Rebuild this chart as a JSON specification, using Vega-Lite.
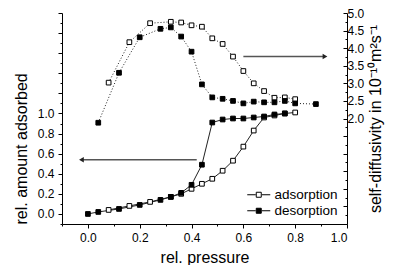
{
  "$schema": "https://vega.github.io/schema/vega-lite/v6.json",
  "width": 285,
  "height": 211,
  "autosize": {"type": "none"},
  "padding": {"left": 62, "top": 13, "right": 46, "bottom": 41},
  "config": {
    "view": {"stroke": null},
    "font": "Liberation Sans",
    "axis": {
      "grid": false,
      "domainColor": "black",
      "tickColor": "black",
      "labelColor": "black",
      "titleColor": "black",
      "labelFont": "Liberation Sans",
      "titleFont": "Liberation Sans",
      "labelFontSize": 12,
      "titleFontSize": 16,
      "titleFontWeight": "normal",
      "domainWidth": 1,
      "tickWidth": 1,
      "labelPadding": 3
    },
    "legend": {"padding": 0}
  },
  "datasets": {
    "amount": [
      {"p": 0.08, "v": 0.04, "branch": "adsorption"},
      {"p": 0.16, "v": 0.08, "branch": "adsorption"},
      {"p": 0.24, "v": 0.12, "branch": "adsorption"},
      {"p": 0.32, "v": 0.17, "branch": "adsorption"},
      {"p": 0.36, "v": 0.20, "branch": "adsorption"},
      {"p": 0.40, "v": 0.25, "branch": "adsorption"},
      {"p": 0.44, "v": 0.30, "branch": "adsorption"},
      {"p": 0.48, "v": 0.35, "branch": "adsorption"},
      {"p": 0.52, "v": 0.43, "branch": "adsorption"},
      {"p": 0.56, "v": 0.53, "branch": "adsorption"},
      {"p": 0.60, "v": 0.67, "branch": "adsorption"},
      {"p": 0.64, "v": 0.83, "branch": "adsorption"},
      {"p": 0.68, "v": 0.96, "branch": "adsorption"},
      {"p": 0.72, "v": 0.98, "branch": "adsorption"},
      {"p": 0.76, "v": 1.00, "branch": "adsorption"},
      {"p": 0.80, "v": 1.01, "branch": "adsorption"},
      {"p": 0.00, "v": 0.00, "branch": "desorption"},
      {"p": 0.04, "v": 0.02, "branch": "desorption"},
      {"p": 0.12, "v": 0.05, "branch": "desorption"},
      {"p": 0.20, "v": 0.09, "branch": "desorption"},
      {"p": 0.28, "v": 0.14, "branch": "desorption"},
      {"p": 0.32, "v": 0.17, "branch": "desorption"},
      {"p": 0.36, "v": 0.21, "branch": "desorption"},
      {"p": 0.40, "v": 0.29, "branch": "desorption"},
      {"p": 0.44, "v": 0.49, "branch": "desorption"},
      {"p": 0.48, "v": 0.91, "branch": "desorption"},
      {"p": 0.52, "v": 0.94, "branch": "desorption"},
      {"p": 0.56, "v": 0.95, "branch": "desorption"},
      {"p": 0.60, "v": 0.95, "branch": "desorption"},
      {"p": 0.64, "v": 0.96, "branch": "desorption"},
      {"p": 0.68, "v": 0.97, "branch": "desorption"},
      {"p": 0.72, "v": 0.99, "branch": "desorption"},
      {"p": 0.76, "v": 1.00, "branch": "desorption"}
    ],
    "diff": [
      {"p": 0.08, "v": 3.02, "branch": "adsorption"},
      {"p": 0.16, "v": 4.17, "branch": "adsorption"},
      {"p": 0.24, "v": 4.71, "branch": "adsorption"},
      {"p": 0.32, "v": 4.75, "branch": "adsorption"},
      {"p": 0.36, "v": 4.73, "branch": "adsorption"},
      {"p": 0.40, "v": 4.65, "branch": "adsorption"},
      {"p": 0.44, "v": 4.61, "branch": "adsorption"},
      {"p": 0.48, "v": 4.28, "branch": "adsorption"},
      {"p": 0.52, "v": 4.12, "branch": "adsorption"},
      {"p": 0.56, "v": 3.76, "branch": "adsorption"},
      {"p": 0.60, "v": 3.35, "branch": "adsorption"},
      {"p": 0.64, "v": 3.00, "branch": "adsorption"},
      {"p": 0.68, "v": 2.78, "branch": "adsorption"},
      {"p": 0.72, "v": 2.59, "branch": "adsorption"},
      {"p": 0.76, "v": 2.60, "branch": "adsorption"},
      {"p": 0.80, "v": 2.55, "branch": "adsorption"},
      {"p": 0.04, "v": 1.88, "branch": "desorption"},
      {"p": 0.12, "v": 3.30, "branch": "desorption"},
      {"p": 0.20, "v": 4.31, "branch": "desorption"},
      {"p": 0.28, "v": 4.55, "branch": "desorption"},
      {"p": 0.32, "v": 4.59, "branch": "desorption"},
      {"p": 0.36, "v": 4.33, "branch": "desorption"},
      {"p": 0.40, "v": 3.90, "branch": "desorption"},
      {"p": 0.44, "v": 2.97, "branch": "desorption"},
      {"p": 0.48, "v": 2.60, "branch": "desorption"},
      {"p": 0.52, "v": 2.56, "branch": "desorption"},
      {"p": 0.56, "v": 2.50, "branch": "desorption"},
      {"p": 0.60, "v": 2.43, "branch": "desorption"},
      {"p": 0.64, "v": 2.48, "branch": "desorption"},
      {"p": 0.68, "v": 2.46, "branch": "desorption"},
      {"p": 0.72, "v": 2.46, "branch": "desorption"},
      {"p": 0.76, "v": 2.50, "branch": "desorption"},
      {"p": 0.80, "v": 2.43, "branch": "desorption"},
      {"p": 0.88, "v": 2.41, "branch": "desorption"}
    ],
    "arrowLeft": [{"p": -0.025, "p2": 0.42, "v": 0.54}],
    "arrowRight": [{"p": 0.60, "p2": 0.915, "v": 3.76}]
  },
  "encoding": {
    "x": {
      "field": "p",
      "type": "quantitative",
      "scale": {"domain": [-0.1, 1.0], "nice": false, "zero": false},
      "axis": {
        "title": "rel. pressure",
        "values": [-0.1, 0, 0.1, 0.2, 0.3, 0.4, 0.5, 0.6, 0.7, 0.8, 0.9, 1.0],
        "labelExpr": "abs(round(datum.value*10)) % 2 == 0 && datum.value > -0.05 ? format(datum.value, '.1f') : ''",
        "tickSize": {"condition": {"test": "abs(round(datum.value*10)) % 2 == 0", "value": 4}, "value": 2},
        "labelPadding": 4,
        "titlePadding": 6,
        "titleFontSize": 16
      }
    }
  },
  "layer": [
    {
      "data": {"name": "amount"},
      "encoding": {
        "y": {
          "field": "v",
          "type": "quantitative",
          "scale": {"domain": [-0.1, 2.0], "nice": false, "zero": false},
          "axis": {
            "orient": "left",
            "title": "rel. amount adsorbed",
            "titleAnchor": "start",
            "values": [-0.1, 0, 0.1, 0.2, 0.3, 0.4, 0.5, 0.6, 0.7, 0.8, 0.9, 1.0, 1.1, 1.2, 1.3, 1.4, 1.5, 1.6, 1.7, 1.8, 1.9, 2.0],
            "labelExpr": "abs(round(datum.value*10)) % 2 == 0 && datum.value > -0.05 && datum.value < 1.05 ? format(datum.value, '.1f') : ''",
            "tickSize": {"condition": {"test": "abs(round(datum.value*10)) % 2 == 0", "value": 4}, "value": 2},
            "labelPadding": 4,
            "titlePadding": 8
          }
        }
      },
      "layer": [
        {
          "mark": {"type": "line", "stroke": "#222", "strokeWidth": 1},
          "encoding": {"detail": {"field": "branch"}}
        },
        {
          "mark": {"type": "point", "shape": "square", "size": 22, "filled": true, "stroke": "black", "strokeWidth": 1, "opacity": 1},
          "encoding": {
            "fill": {
              "field": "branch",
              "type": "nominal",
              "scale": {"domain": ["adsorption", "desorption"], "range": ["white", "black"]},
              "legend": {
                "title": null,
                "orient": "none",
                "legendX": 190,
                "legendY": 175,
                "symbolType": "M-2.3,0H-0.6M0.6,0H2.3M-0.5,-0.5H0.5V0.5H-0.5Z",
                "symbolSize": 100,
                "symbolStrokeColor": "black",
                "symbolStrokeWidth": 1,
                "labelFontSize": 13.5,
                "labelFont": "Liberation Sans",
                "labelColor": "black",
                "labelOffset": 9,
                "rowPadding": 1
              }
            }
          }
        },
        {
          "data": {"name": "arrowLeft"},
          "mark": {"type": "rule", "stroke": "#555", "strokeWidth": 1.5},
          "encoding": {"x2": {"field": "p2"}}
        },
        {
          "data": {"name": "arrowLeft"},
          "mark": {"type": "point", "shape": "triangle-left", "size": 30, "filled": true, "color": "#222", "opacity": 1}
        }
      ]
    },
    {
      "data": {"name": "diff"},
      "encoding": {
        "y": {
          "field": "v",
          "type": "quantitative",
          "scale": {"domain": [-1, 5], "nice": false, "zero": false},
          "axis": {
            "orient": "right",
            "title": "self-diffusivity in 10⁻¹⁰m²s⁻¹",
            "titleAngle": 270,
            "titleBaseline": "top",
            "values": [-1, -0.75, -0.5, -0.25, 0, 0.25, 0.5, 0.75, 1, 1.25, 1.5, 1.75, 2, 2.25, 2.5, 2.75, 3, 3.25, 3.5, 3.75, 4, 4.25, 4.5, 4.75, 5],
            "labelExpr": "abs(round(datum.value*4)) % 2 == 0 && datum.value > 1.95 ? format(datum.value, '.1f') : ''",
            "tickSize": {"condition": {"test": "abs(round(datum.value*4)) % 2 == 0", "value": -4}, "value": -2},
            "labelPadding": 4,
            "titlePadding": 4
          }
        }
      },
      "layer": [
        {
          "mark": {"type": "line", "stroke": "#222", "strokeWidth": 1, "strokeDash": [1, 2]},
          "encoding": {"detail": {"field": "branch"}}
        },
        {
          "mark": {"type": "point", "shape": "square", "size": 22, "filled": true, "stroke": "black", "strokeWidth": 1, "opacity": 1},
          "encoding": {
            "fill": {
              "field": "branch",
              "type": "nominal",
              "scale": {"domain": ["adsorption", "desorption"], "range": ["white", "black"]},
              "legend": {
                "title": null,
                "orient": "none",
                "legendX": 190,
                "legendY": 175,
                "symbolType": "M-2.3,0H-0.6M0.6,0H2.3M-0.5,-0.5H0.5V0.5H-0.5Z",
                "symbolSize": 100,
                "symbolStrokeColor": "black",
                "symbolStrokeWidth": 1,
                "labelFontSize": 13.5,
                "labelFont": "Liberation Sans",
                "labelColor": "black",
                "labelOffset": 9,
                "rowPadding": 1
              }
            }
          }
        },
        {
          "data": {"name": "arrowRight"},
          "mark": {"type": "rule", "stroke": "#555", "strokeWidth": 1.5},
          "encoding": {"x2": {"field": "p2"}}
        },
        {
          "data": {"name": "arrowRight"},
          "mark": {"type": "point", "shape": "triangle-right", "size": 30, "filled": true, "color": "#222", "opacity": 1},
          "encoding": {"x": {"field": "p2", "type": "quantitative"}}
        }
      ]
    }
  ],
  "resolve": {"scale": {"y": "independent"}, "axis": {"y": "independent"}}
}
